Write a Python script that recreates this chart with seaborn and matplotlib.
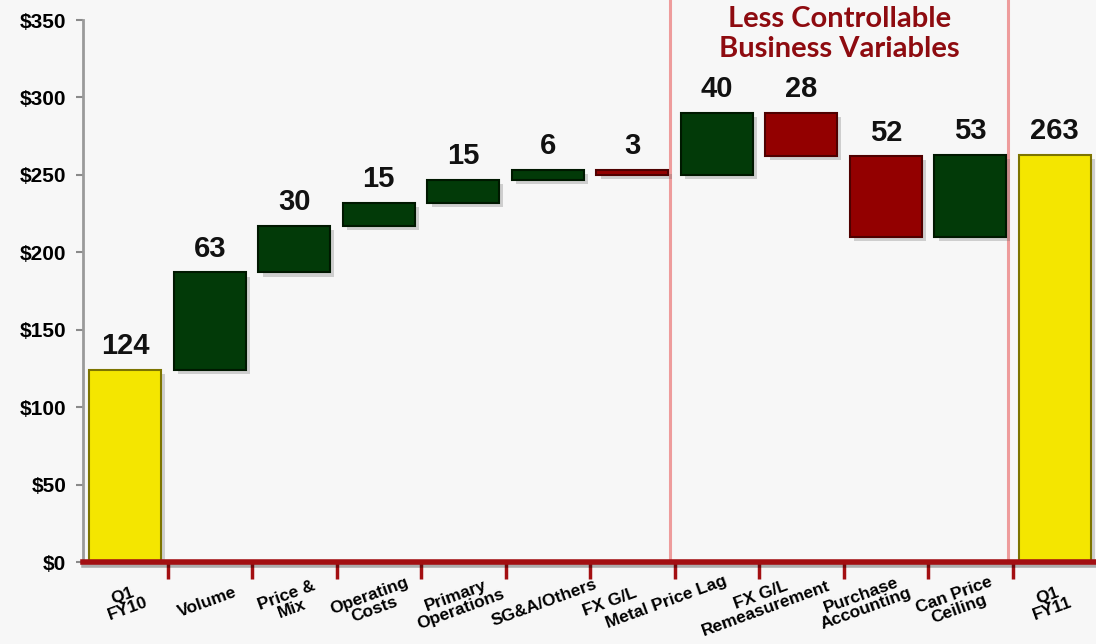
import numpy as np
import pandas as pd
import seaborn as sns
import matplotlib.pyplot as plt
import matplotlib.transforms as mtransforms
from matplotlib import patheffects as pe

# waterfall data (US$ millions)
categories = ["Q1\nFY10", "Volume", "Price &\nMix", "Operating\nCosts", "Primary\nOperations",
              "SG&A/Others", "FX G/L", "Metal Price Lag", "FX G/L\nRemeasurement",
              "Purchase\nAccounting", "Can Price\nCeiling", "Q1\nFY11"]
changes = [124, 63, 30, 15, 15, 6, -3, 40, -28, -52, 53, 263]
kinds = ["total", "up", "up", "up", "up", "up", "down", "up", "down", "down", "up", "total"]
y_ticks = [0, 50, 100, 150, 200, 250, 300, 350]
bracket_title = "Less Controllable\nBusiness Variables"

bg = "#f7f7f7"
face = {"total": "#f4e600", "up": "#023a08", "down": "#930000"}
edge = {"total": "#7d7400", "up": "#001800", "down": "#4f0000"}
axis_red = "#a30f12"

# turn changes into floating bars
bottoms, heights = [], []
running = 0
for c, k in zip(changes, kinds):
    if k == "total":
        bottoms.append(0)
        heights.append(c)
        running = c
    elif k == "up":
        bottoms.append(running)
        heights.append(c)
        running += c
    else:
        running += c
        bottoms.append(running)
        heights.append(-c)

df = pd.DataFrame({"category": categories, "height": heights, "bottom": bottoms})

fig = plt.figure(figsize=(10.96, 6.44), dpi=100, facecolor=bg)
ax = fig.add_axes([83 / 1096, 82 / 644, 1014 / 1096, 542 / 644])
ax.set_facecolor(bg)

sns.barplot(data=df, x="category", y="height", bottom=df["bottom"].values,
            width=0.85, saturation=1, color="#023a08", ax=ax, zorder=2)

shadow = [pe.SimplePatchShadow(offset=(3, -3), alpha=0.25, shadow_rgbFace="#555555"), pe.Normal()]
for bar, k in zip(ax.patches, kinds):
    bar.set_facecolor(face[k])
    bar.set_edgecolor(edge[k])
    bar.set_linewidth(1.5)
    bar.set_path_effects(shadow)

# value labels
for i, (c, b, h) in enumerate(zip(changes, bottoms, heights)):
    ax.annotate(str(abs(c)), xy=(i, b + h), xytext=(0, 7), textcoords="offset points",
                ha="center", va="bottom", fontsize=21, fontweight="bold",
                family="Liberation Sans", color="#111111")

ax.set_xlim(-0.5, len(categories) - 0.5)
ax.set_ylim(0, 350)
ax.set_yticks(y_ticks)
ax.set_yticklabels([f"${v}" for v in y_ticks], fontsize=15, fontweight="bold", family="Liberation Sans")
ax.set_xticks(range(len(categories)))
ax.set_xticklabels(categories, rotation=20, ha="center", va="center", fontsize=12.5,
                   fontweight="bold", family="Liberation Sans", linespacing=0.95)
ax.set_xticks(np.arange(0.5, len(categories) - 1), minor=True)
ax.tick_params(axis="x", which="major", length=0, pad=29)
ax.tick_params(axis="x", which="minor", length=12, width=2.5, color=axis_red)
ax.tick_params(axis="y", length=5, width=1.5, color="#8a8a8a", pad=7)
ax.set_xlabel("")
ax.set_ylabel("")

# the original labels drift left under the bracket
nudges = [0, -2, -5, -7, -5, -3, -22, -50, -38, -22, -14, -5]
for lab, dx in zip(ax.get_xticklabels(), nudges):
    lab.set_transform(lab.get_transform() + mtransforms.ScaledTranslation(dx / 100, 0, fig.dpi_scale_trans))

for s in ["top", "right"]:
    ax.spines[s].set_visible(False)
ax.spines["left"].set_color("#9a9a9a")
ax.spines["left"].set_linewidth(2)
ax.spines["bottom"].set_color(axis_red)
ax.spines["bottom"].set_linewidth(4)
ax.spines["bottom"].set_path_effects([pe.SimpleLineShadow(offset=(1, -2), alpha=0.3), pe.Normal()])

# bracket around the less controllable items (top runs off the page)
for xb in [6.45, 10.45]:
    ax.plot([xb, xb], [0, 380], color="#ee9c9c", linewidth=2.2, clip_on=False, zorder=0.5)
ax.text(8.45, 341, bracket_title, ha="center", va="center", fontsize=21, fontweight="bold",
        family="Lato", color="#8e0b10", linespacing=1.2)

fig.savefig("out.png", dpi=100, facecolor=bg)
